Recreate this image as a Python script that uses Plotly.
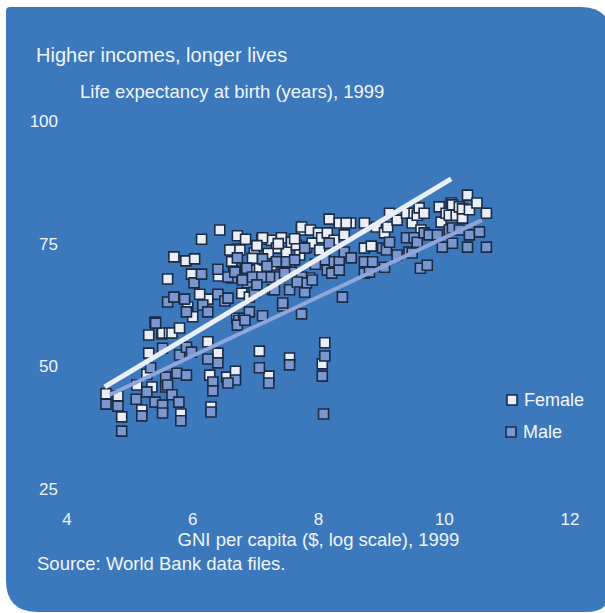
import plotly.graph_objects as go

W, H = 605, 613

# ---- data (log GNI per capita, life expectancy) ----
female_x = [4.62, 4.81, 4.87, 5.11, 5.19, 5.27, 5.30, 5.30, 5.35, 5.51, 5.52, 5.63, 5.67, 5.79,
            5.81, 5.92, 6.00, 6.24, 6.27, 6.29, 6.40, 6.54, 5.60, 5.70, 5.89, 6.03, 6.14, 6.43,
            5.98, 6.41, 6.24, 6.11, 6.62, 6.71, 6.71, 6.84, 7.10, 7.25, 6.78, 6.90, 7.06, 6.68,
            6.70, 7.06, 7.21, 7.54, 8.06, 8.10,
            6.59, 6.75, 6.98, 6.62, 7.33, 7.41, 7.49, 7.57, 7.65, 7.73, 7.73, 7.81, 7.87, 7.90,
            8.00, 8.05, 8.14, 8.17, 8.33, 8.51, 8.44, 7.25, 7.43, 7.86, 7.11, 7.14, 6.90, 7.54,
            7.70, 8.02, 8.25, 8.41, 7.02, 7.20, 7.36, 7.62, 6.95,
            8.73, 8.73, 8.84, 8.92, 9.05, 9.10, 9.13, 9.25, 9.40, 9.49, 9.52, 9.57, 9.60, 9.68,
            9.92, 9.95, 10.03, 10.08, 10.11, 10.13, 10.19, 10.24, 10.29, 10.29, 10.37, 10.40,
            10.52, 10.67, 9.63]
female_y = [44.4, 44.0, 39.7, 46.2, 41.1, 48.4, 56.4, 52.7, 45.8, 56.6, 56.8, 56.8, 56.8, 57.8,
            40.3, 62.1, 60.1, 55.0, 48.2, 41.7, 52.7, 47.8, 67.8, 72.3, 71.5, 71.9, 75.9, 77.8,
            68.8, 68.4, 63.7, 64.7, 73.7, 73.9, 76.6, 75.9, 75.9, 75.7, 64.9, 64.1, 70.0, 49.0,
            59.8, 53.1, 48.0, 51.7, 50.5, 54.8,
            73.7, 73.7, 73.1, 71.3, 74.1, 76.2, 73.3, 75.3, 74.7, 77.8, 78.4, 74.3, 77.8, 75.1,
            77.2, 76.2, 77.2, 80.0, 79.2, 79.2, 79.2, 70.0, 71.1, 68.0, 76.2, 71.7, 69.6, 70.6,
            72.7, 73.7, 75.7, 76.8, 74.6, 73.0, 75.0, 76.0, 72.0,
            79.2, 74.1, 74.5, 78.4, 77.2, 78.4, 81.2, 79.8, 81.2, 79.2, 81.2, 80.8, 82.3, 81.2,
            82.5, 79.4, 81.2, 80.8, 83.3, 82.9, 80.8, 82.5, 80.2, 82.1, 84.9, 81.9,
            83.3, 81.2, 77.8]

male_x = [4.62, 4.81, 4.87, 5.10, 5.19, 5.27, 5.33, 5.40, 5.40, 5.52, 5.52, 5.52, 5.57, 5.57,
          5.60, 5.67, 5.75, 5.78, 5.79, 5.81, 5.90, 5.90, 5.98, 6.24, 6.32, 6.32, 6.29, 6.40,
          5.41, 5.60, 5.70, 5.87, 5.90, 6.02, 6.14, 6.16, 6.24, 6.40, 6.40, 6.51, 6.62, 6.65,
          6.71, 6.73, 6.81, 6.87, 6.90, 6.84, 7.11, 7.11, 7.27, 7.33, 6.68, 6.56, 6.71, 6.83,
          7.43, 7.73, 7.06, 7.21, 7.54, 8.06, 8.08, 8.10,
          6.56, 6.67, 6.79, 6.86, 6.95, 6.98, 7.10, 7.25, 7.30, 7.33, 7.38, 7.43, 7.49, 7.54,
          7.57, 7.62, 7.73, 7.78, 7.78, 7.81, 7.90, 8.10, 8.14, 8.17, 8.21, 8.25, 8.33, 8.33,
          8.38, 8.41, 8.52, 6.56, 7.02, 7.18, 7.46, 7.66, 7.95,
          8.73, 8.73, 8.81, 8.86, 9.05, 9.02, 9.08, 9.13, 9.25, 9.40, 9.44, 9.49, 9.52, 9.57,
          9.62, 9.73, 9.68, 9.76, 9.89, 9.97, 10.08, 10.13, 10.13, 10.24, 10.37, 10.40, 10.56,
          10.67]
male_y = [42.3, 41.9, 36.8, 43.3, 39.9, 44.8, 49.7, 59.0, 42.7, 53.7, 42.1, 40.5, 47.8, 45.8,
          46.2, 44.2, 48.6, 42.7, 52.3, 38.9, 53.9, 48.2, 52.9, 51.5, 46.8, 45.0, 40.7, 50.7,
          58.8, 63.1, 64.1, 63.7, 61.1, 67.0, 68.8, 62.5, 61.1, 64.7, 69.8, 63.3, 68.0, 69.4,
          72.1, 59.4, 59.8, 67.0, 61.1, 70.0, 71.9, 60.3, 65.6, 68.6, 47.2, 46.6, 58.4, 59.4,
          62.3, 60.7, 49.7, 46.6, 50.3, 48.0, 40.3, 52.1,
          68.2, 69.2, 67.6, 70.0, 68.2, 65.1, 68.2, 68.2, 65.6, 71.3, 68.2, 62.9, 71.3, 65.6,
          69.2, 71.7, 68.2, 74.1, 65.1, 67.0, 67.6, 71.7, 69.6, 75.1, 69.0, 71.3, 71.3, 69.6,
          64.1, 73.3, 72.1, 63.9, 66.6, 70.4, 69.0, 67.2, 70.8,
          71.3, 69.0, 69.2, 71.3, 70.2, 74.1, 73.7, 75.3, 72.7, 76.2, 73.3, 73.1, 76.2, 75.3,
          70.0, 70.6, 77.2, 76.8, 76.8, 74.3, 77.8, 75.1, 78.2, 77.8, 74.3, 76.8, 77.4,
          74.3]

trend_female_x = [4.60, 10.11]
trend_female_y = [45.8, 88.2]
trend_male_x = [4.68, 10.60]
trend_male_y = [44.2, 79.8]

x_ticks = [4, 6, 8, 10, 12]
y_ticks = [25, 50, 75, 100]
series_names = ["Female", "Male"]

BLUE = "#3b78bc"
FEMALE = "#e9eef8"
MALE = "#7b97d0"
EDGE = "#1c2b44"
TXT = "#f2f5fb"
FONT = "Liberation Sans"


def px(x):
    return x / W


def py(y):
    return 1 - y / H


fig = go.Figure()
fig.add_trace(go.Scatter(x=female_x, y=female_y, mode="markers", name=series_names[0],
                         marker=dict(symbol="square", size=10, color=FEMALE,
                                     line=dict(color=EDGE, width=1.6))))
fig.add_trace(go.Scatter(x=male_x, y=male_y, mode="markers", name=series_names[1],
                         marker=dict(symbol="square", size=10, color=MALE,
                                     line=dict(color=EDGE, width=1.6))))
fig.add_trace(go.Scatter(x=trend_female_x, y=trend_female_y, mode="lines",
                         line=dict(color=FEMALE, width=5), hoverinfo="skip"))
fig.add_trace(go.Scatter(x=trend_male_x, y=trend_male_y, mode="lines",
                         line=dict(color="#8fa6db", width=4), hoverinfo="skip"))

# background panel with rounded corners
L, T, R, B = 6, 7, 612, 612
rtl, rtr, rbl, rbr = 4, 32, 32, 26
path = (f"M {px(L)},{py(T + rtl)} Q {px(L)},{py(T)} {px(L + rtl)},{py(T)} "
        f"L {px(R - rtr)},{py(T)} Q {px(R)},{py(T)} {px(R)},{py(T + rtr)} "
        f"L {px(R)},{py(B - rbr)} Q {px(R)},{py(B)} {px(R - rbr)},{py(B)} "
        f"L {px(L + rbl)},{py(B)} Q {px(L)},{py(B)} {px(L)},{py(B - rbl)} Z")

shapes = [dict(type="path", xref="paper", yref="paper", path=path,
               fillcolor=BLUE, line=dict(width=0), layer="below")]

# legend swatches + labels
annotations = []
legend_items = [(series_names[0], FEMALE, 512, 400), (series_names[1], MALE, 511, 432)]
for name, col, cx, cy in legend_items:
    s = 5
    shapes.append(dict(type="rect", xref="paper", yref="paper",
                       x0=px(cx - s), x1=px(cx + s), y0=py(cy + s), y1=py(cy - s),
                       fillcolor=col, line=dict(color=EDGE, width=1.6), layer="above"))
    annotations.append(dict(text=name, x=px(cx + 10), y=py(cy), xref="paper", yref="paper",
                            xanchor="left", yanchor="middle", showarrow=False,
                            font=dict(size=18, color=TXT)))

annotations += [
    dict(text="Higher incomes, longer lives", x=px(34), y=py(55), xref="paper",
         yref="paper", xanchor="left", yanchor="middle", showarrow=False,
         font=dict(size=20, color=TXT)),
    dict(text="Life expectancy at birth (years), 1999", x=px(78), y=py(91),
         xref="paper", yref="paper", xanchor="left", yanchor="middle",
         showarrow=False, font=dict(size=18.5, color=TXT)),
    dict(text="Source: World Bank data files.", x=px(35), y=py(563), xref="paper",
         yref="paper", xanchor="left", yanchor="middle", showarrow=False,
         font=dict(size=18.5, color=TXT)),
]

fig.update_layout(
    width=W, height=H,
    margin=dict(l=0, r=0, t=0, b=0),
    paper_bgcolor="white",
    plot_bgcolor="rgba(0,0,0,0)",
    font=dict(family=FONT, size=17, color=TXT),
    shapes=shapes,
    showlegend=False,
    xaxis=dict(domain=[67 / W, 570 / W], range=[4, 12], tickvals=x_ticks,
               showgrid=False, zeroline=False, showline=False, ticks="",
               ticklabelstandoff=18, tickfont=dict(size=17, color=TXT),
               automargin=False,
               title=dict(text="GNI per capita ($, log scale), 1999", standoff=4,
                          font=dict(size=18.5, color=TXT))),
    yaxis=dict(domain=[1 - 489 / H, 1 - 121 / H], range=[25, 100], tickvals=y_ticks,
               showgrid=False, zeroline=False, showline=False, ticks="",
               ticklabelstandoff=8, tickfont=dict(size=17, color=TXT),
               automargin=False),
    annotations=annotations,
)

fig.write_html("out.html", config={"displayModeBar": False},
               post_script="document.body.style.margin='0';")
